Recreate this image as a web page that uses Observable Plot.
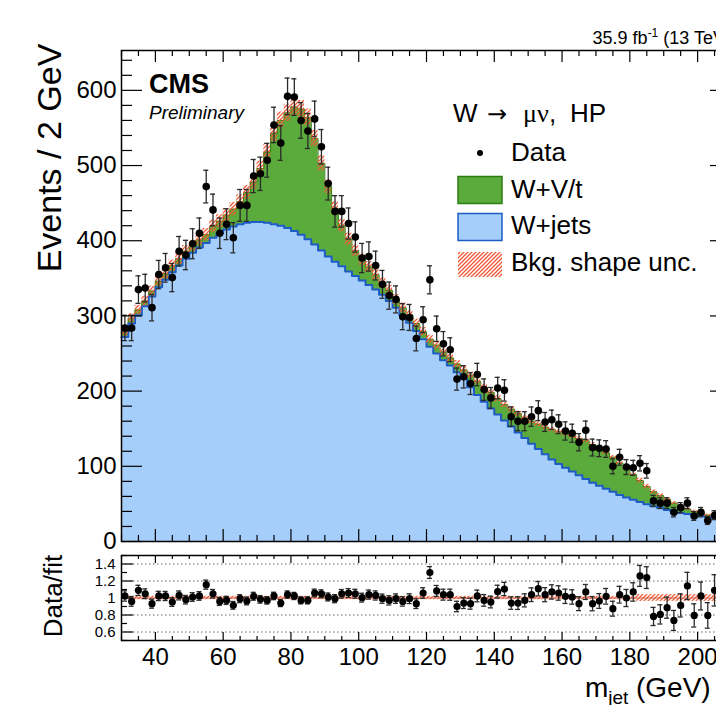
<!DOCTYPE html>
<html><head><meta charset="utf-8">
<script src="https://cdn.jsdelivr.net/npm/d3@7"></script>
<script src="https://cdn.jsdelivr.net/npm/@observablehq/plot@0.6"></script>
<style>
html,body{margin:0;padding:0;background:#fff;overflow:hidden;}
#wrap{position:relative;width:716px;height:705px;overflow:hidden;background:#fff;}
#wrap svg{position:absolute;left:0;max-width:none !important;overflow:visible;}
</style></head><body>
<svg width="0" height="0" style="position:absolute">
 <defs>
  <pattern id="hatch" patternUnits="userSpaceOnUse" width="4" height="4">
   <path d="M-1,1 l2,-2 M0,4 l4,-4 M3,5 l2,-2" stroke="#f05a38" stroke-width="1.3" fill="none"/>
  </pattern>
 </defs>
</svg>
<div id="wrap"></div>
<script>
// ---- data (m_jet bins of 2 GeV, centers 31..205) ----
const binCenters = d3.range(31, 206, 2);
const dataCounts = [
  284, 284, 335, 337, 311, 355, 364, 351, 386, 381,
  396, 410, 472, 441, 410, 422, 404, 447, 447, 486,
  489, 507, 554, 530, 592, 591, 560, 546, 562, 525,
  476, 439, 439, 423, 405, 377, 379, 367, 342, 327,
  322, 299, 298, 270, 295, 348, 283, 263, 255, 216,
  219, 210, 222, 202, 191, 204, 201, 166, 160, 160,
  166, 174, 159, 162, 156, 147, 144, 132, 148, 125,
  124, 123, 100, 112, 99, 98, 104, 94, 54, 51,
  51, 39, 45, 51, 34, 39, 28, 35];
const fitTotal = [   // W+jets + W+V/t (top of stack)
  278, 297, 308, 320, 333, 346, 356, 367, 376, 386,
  393, 401, 408, 419, 426, 434, 442, 452, 464, 478,
  496, 518, 543, 560, 570, 578, 575, 564, 536, 503,
  472, 443, 420, 402, 387, 375, 365, 355, 344, 334,
  322, 311, 301, 290, 279, 269, 261, 252, 244, 236,
  228, 221, 213, 205, 198, 190, 182, 176, 170, 164,
  160, 156, 152, 149, 146, 143, 140, 137, 134, 129,
  124, 118, 112, 104, 97, 89, 81, 73, 66, 61,
  56, 51, 47, 43, 40, 37, 35, 32];
const wjets = [
  272, 290, 301, 313, 326, 338, 348, 358, 367, 376,
  384, 391, 397, 404, 410, 415, 419, 422, 424, 425,
  425, 424, 422, 420, 417, 413, 408, 402, 395, 387,
  379, 372, 366, 359, 353, 347, 341, 335, 328, 320,
  311, 301, 291, 280, 269, 259, 250, 241, 234, 225,
  216, 205, 195, 186, 177, 169, 161, 153, 145, 137.5,
  130, 123, 116, 109, 103, 98, 93, 88, 83, 78,
  74, 70, 66, 62, 58.5, 55.5, 52.5, 49.5, 47, 45,
  42, 40, 38, 36.5, 35, 34, 32.5, 31];
const ratioValues = [
  1.024, 0.96, 1.09, 1.05, 0.933, 1.024, 1.024, 0.953, 1.03, 0.98,
  1.012, 1.024, 1.157, 1.05, 0.96, 0.972, 0.914, 0.992, 0.965, 1.02,
  0.984, 0.972, 1.024, 0.94, 1.04, 1.024, 0.972, 0.972, 1.059, 1.05,
  1.012, 0.992, 1.05, 1.059, 1.05, 1.004, 1.04, 1.03, 0.992, 0.972,
  0.992, 0.96, 0.992, 0.933, 1.059, 1.30, 1.083, 1.039, 1.039, 0.90,
  0.94, 0.933, 1.024, 0.972, 0.953, 1.075, 1.106, 0.94, 0.94, 0.972,
  1.039, 1.11, 1.039, 1.071, 1.059, 1.02, 1.012, 0.933, 1.071, 0.933,
  0.965, 1.02, 0.874, 1.039, 1.0, 1.071, 1.26, 1.24, 0.783, 0.807,
  0.886, 0.736, 0.913, 1.142, 0.795, 1.024, 0.795, 1.09];
const shapeUnc = [
  0.02,0.02,0.02,0.02,0.02,0.02,0.02,0.02,0.02,0.02,
  0.02,0.02,0.02,0.02,0.02,0.02,0.02,0.02,0.02,0.02,
  0.02,0.02,0.02,0.02,0.02,0.02,0.02,0.02,0.02,0.02,
  0.02,0.02,0.02,0.02,0.02,0.02,0.02,0.02,0.02,0.02,
  0.02,0.02,0.02,0.02,0.02,0.02,0.02,0.02,0.02,0.02,
  0.02,0.02,0.02,0.02,0.02,0.02,0.02,0.02,0.02,0.02,
  0.02,0.02,0.02,0.02,0.02,0.02,0.02,0.02,0.02,0.02,
  0.02,0.02,0.02,0.02,0.02,0.02,0.04,0.04,0.04,0.04,
  0.04,0.04,0.04,0.04,0.04,0.04,0.04,0.04];
const xTickLabels = [40, 60, 80, 100, 120, 140, 160, 180, 200];
const yTickLabels = [0, 100, 200, 300, 400, 500, 600];
const ratioTickLabels = [0.6, 0.8, 1, 1.2, 1.4];
const legendLabels = ["Data", "W+V/t", "W+jets", "Bkg. shape unc."];

// ---- styling ----
const FONT = "'Liberation Sans', Arial, Helvetica, sans-serif";
const GREEN = "#5aaa3c", DKGREEN = "#2d7d12", BLUE = "#a6cefa", DKBLUE = "#1d5cc4";
const W = 740, ML = 121, MR = 9;
const PW = W - ML - MR;           // 610
const MAIN_H = 545, MAIN_MT = 50, MAIN_MB = 4, MAIN_PH = MAIN_H - MAIN_MT - MAIN_MB;
const R_H = 160, R_MT = 10, R_MB = 65, R_PH = R_H - R_MT - R_MB;

const rows = binCenters.map((m, i) => ({
  m, n: dataCounts[i], fit: fitTotal[i], wj: wjets[i], r: ratioValues[i], unc: shapeUnc[i]
}));
const stepPts = vals => binCenters.flatMap((c, i) => [{x: c - 1, y: vals[i]}, {x: c + 1, y: vals[i]}]);
const xMinor = d3.range(30, 211, 5).filter(v => v % 20 !== 0);
const yMinorMain = d3.range(0, 653, 20).filter(v => v % 100 !== 0);
const rMinor = [0.5, 0.7, 0.9, 1.1, 1.3, 1.5];

const wrap = document.getElementById("wrap");

// ---- main panel ----
const main = Plot.plot({
  width: W, height: MAIN_H, marginLeft: ML, marginRight: MR, marginTop: MAIN_MT, marginBottom: MAIN_MB,
  style: {fontFamily: FONT, fontSize: "24px", color: "black", background: "transparent", overflow: "visible"},
  x: {domain: [30, 210], axis: null},
  y: {domain: [0, 653]},
  marks: [
    Plot.areaY(stepPts(fitTotal), {x: "x", y1: 0, y2: "y", fill: GREEN}),
    Plot.areaY(stepPts(wjets), {x: "x", y1: 0, y2: "y", fill: BLUE}),
    Plot.line(stepPts(fitTotal), {x: "x", y: "y", stroke: DKGREEN, strokeWidth: 1}),
    Plot.line(stepPts(wjets), {x: "x", y: "y", stroke: DKBLUE, strokeWidth: 2}),
    Plot.rect(rows, {x1: d => d.m - 1, x2: d => d.m + 1, y1: d => d.fit * (1 - d.unc), y2: d => d.fit * (1 + d.unc), fill: "url(#hatch)"}),
    Plot.ruleX(rows, {x: "m", y1: d => d.n - Math.sqrt(d.n), y2: d => d.n + Math.sqrt(d.n), stroke: "#2a2a2a", strokeWidth: 1.3}),
    Plot.ruleY(rows, {y: d => d.n + Math.sqrt(d.n), x1: d => d.m - 0.75, x2: d => d.m + 0.75, stroke: "#2a2a2a", strokeWidth: 1.3}),
    Plot.ruleY(rows, {y: d => d.n - Math.sqrt(d.n), x1: d => d.m - 0.75, x2: d => d.m + 0.75, stroke: "#2a2a2a", strokeWidth: 1.3}),
    Plot.dot(rows, {x: "m", y: "n", r: 3.8, fill: "black", stroke: "none"}),
    // inward ticks
    Plot.ruleX(xTickLabels, {insetTop: MAIN_PH - 12, stroke: "black", strokeWidth: 1.2}),
    Plot.ruleX(xMinor, {insetTop: MAIN_PH - 6, stroke: "black", strokeWidth: 1.2}),
    Plot.ruleX(xTickLabels, {insetBottom: MAIN_PH - 12, stroke: "black", strokeWidth: 1.2}),
    Plot.ruleX(xMinor, {insetBottom: MAIN_PH - 6, stroke: "black", strokeWidth: 1.2}),
    Plot.ruleY(yTickLabels, {insetRight: PW - 21, stroke: "black", strokeWidth: 1.2}),
    Plot.ruleY(yMinorMain, {insetRight: PW - 11, stroke: "black", strokeWidth: 1.2}),
    Plot.ruleY(yTickLabels, {insetLeft: PW - 21, stroke: "black", strokeWidth: 1.2}),
    Plot.ruleY(yMinorMain, {insetLeft: PW - 11, stroke: "black", strokeWidth: 1.2}),
    Plot.axisY(yTickLabels, {tickSize: 0, tickPadding: 5, fontSize: 24, label: null, tickFormat: d => String(d)}),
    Plot.frame({stroke: "black", strokeWidth: 1.5})
  ]
});
main.style.top = "0px";
main.style.maxWidth = "none";
wrap.appendChild(main);

const ms = d3.select(main);
const tg = ms.append("g").attr("font-family", FONT).attr("fill", "black").attr("text-anchor", "start");
tg.append("text").attr("transform", "translate(61,158) rotate(-90)").attr("text-anchor", "middle")
  .attr("font-size", 34).text("Events / 2 GeV");
tg.append("text").attr("x", 149).attr("y", 93).attr("font-size", 27).attr("font-weight", "bold").text("CMS");
tg.append("text").attr("x", 149).attr("y", 119).attr("font-size", 19).attr("font-style", "italic").text("Preliminary");
const lumi = tg.append("text").attr("x", 731).attr("y", 44).attr("font-size", 18).attr("text-anchor", "end");
lumi.append("tspan").text("35.9 fb");
lumi.append("tspan").attr("font-size", 12).attr("dy", -7).text("-1");
lumi.append("tspan").attr("dy", 7).text(" (13 TeV)");
// legend
const hd = tg.append("text").attr("y", 122).attr("font-size", 26);
hd.append("tspan").attr("x", 453).text("W");
hd.append("tspan").attr("x", 487).attr("font-family", "'DejaVu Sans', sans-serif").attr("font-size", 24).text("→");
hd.append("tspan").attr("x", 523).attr("font-family", "'Liberation Serif', 'Times New Roman', serif").text("μν");
hd.append("tspan").attr("x", 549).text(",");
hd.append("tspan").attr("x", 570).text("HP");
tg.append("circle").attr("cx", 480).attr("cy", 153).attr("r", 3).attr("fill", "black");
tg.append("text").attr("x", 511).attr("y", 161).attr("font-size", 26).text(legendLabels[0]);
tg.append("rect").attr("x", 458).attr("y", 176.5).attr("width", 44).attr("height", 27).attr("fill", GREEN).attr("stroke", DKGREEN).attr("stroke-width", 1.5);
tg.append("text").attr("x", 511).attr("y", 198).attr("font-size", 26).text(legendLabels[1]);
tg.append("rect").attr("x", 458).attr("y", 213.5).attr("width", 44).attr("height", 27).attr("fill", BLUE).attr("stroke", DKBLUE).attr("stroke-width", 1.5);
tg.append("text").attr("x", 511).attr("y", 234).attr("font-size", 26).text(legendLabels[2]);
tg.append("rect").attr("x", 458).attr("y", 252).attr("width", 44).attr("height", 25).attr("fill", "url(#hatch)");
tg.append("text").attr("x", 511).attr("y", 271).attr("font-size", 26).text(legendLabels[3]);

// ---- ratio panel ----
const ratio = Plot.plot({
  width: W, height: R_H, marginLeft: ML, marginRight: MR, marginTop: R_MT, marginBottom: R_MB,
  style: {fontFamily: FONT, fontSize: "24px", color: "black", background: "transparent", overflow: "visible"},
  x: {domain: [30, 210]},
  y: {domain: [0.5, 1.5]},
  marks: [
    Plot.ruleY([0.6, 0.8, 1.2, 1.4], {stroke: "#666", strokeWidth: 1, strokeDasharray: "1.5,2.5"}),
    Plot.rect(rows, {x1: d => d.m - 1, x2: d => d.m + 1, y1: d => 1 - d.unc, y2: d => 1 + d.unc, fill: "url(#hatch)"}),
    Plot.ruleY([1], {stroke: "#d0654a", strokeWidth: 1}),
    Plot.ruleX(rows, {x: "m", y1: d => d.r - d.r / Math.sqrt(d.n), y2: d => d.r + d.r / Math.sqrt(d.n), stroke: "#2a2a2a", strokeWidth: 1.3}),
    Plot.ruleY(rows, {y: d => d.r + d.r / Math.sqrt(d.n), x1: d => d.m - 0.75, x2: d => d.m + 0.75, stroke: "#2a2a2a", strokeWidth: 1.3}),
    Plot.ruleY(rows, {y: d => d.r - d.r / Math.sqrt(d.n), x1: d => d.m - 0.75, x2: d => d.m + 0.75, stroke: "#2a2a2a", strokeWidth: 1.3}),
    Plot.dot(rows, {x: "m", y: "r", r: 3.6, fill: "black", stroke: "none"}),
    Plot.ruleX(xTickLabels, {insetTop: R_PH - 8, stroke: "black", strokeWidth: 1.2}),
    Plot.ruleX(xMinor, {insetTop: R_PH - 4, stroke: "black", strokeWidth: 1.2}),
    Plot.ruleX(xTickLabels, {insetBottom: R_PH - 8, stroke: "black", strokeWidth: 1.2}),
    Plot.ruleX(xMinor, {insetBottom: R_PH - 4, stroke: "black", strokeWidth: 1.2}),
    Plot.ruleY(ratioTickLabels, {insetRight: PW - 12, stroke: "black", strokeWidth: 1.2}),
    Plot.ruleY(rMinor, {insetRight: PW - 6, stroke: "black", strokeWidth: 1.2}),
    Plot.ruleY(ratioTickLabels, {insetLeft: PW - 12, stroke: "black", strokeWidth: 1.2}),
    Plot.ruleY(rMinor, {insetLeft: PW - 6, stroke: "black", strokeWidth: 1.2}),
    Plot.axisY(ratioTickLabels, {tickSize: 0, tickPadding: 6, fontSize: 15, label: null, tickFormat: d => String(d)}),
    Plot.axisX(xTickLabels, {anchor: "bottom", tickSize: 0, tickPadding: 7, fontSize: 24, label: null, tickFormat: d => String(d)}),
    Plot.frame({stroke: "black", strokeWidth: 1.5})
  ]
});
ratio.style.top = MAIN_H + "px";
ratio.style.maxWidth = "none";
wrap.appendChild(ratio);

const rs = d3.select(ratio);
const rg = rs.append("g").attr("font-family", FONT).attr("fill", "black").attr("text-anchor", "start");
rg.append("text").attr("transform", "translate(62,51) rotate(-90)").attr("text-anchor", "middle")
  .attr("font-size", 26).text("Data/fit");
const xl = rg.append("text").attr("y", 152).attr("font-size", 28);
xl.append("tspan").attr("x", 585).text("m");
xl.append("tspan").attr("font-size", 19).attr("dy", 7).text("jet");
xl.append("tspan").attr("x", 636).attr("dy", -7).text("(GeV)");
</script>
</body></html>
